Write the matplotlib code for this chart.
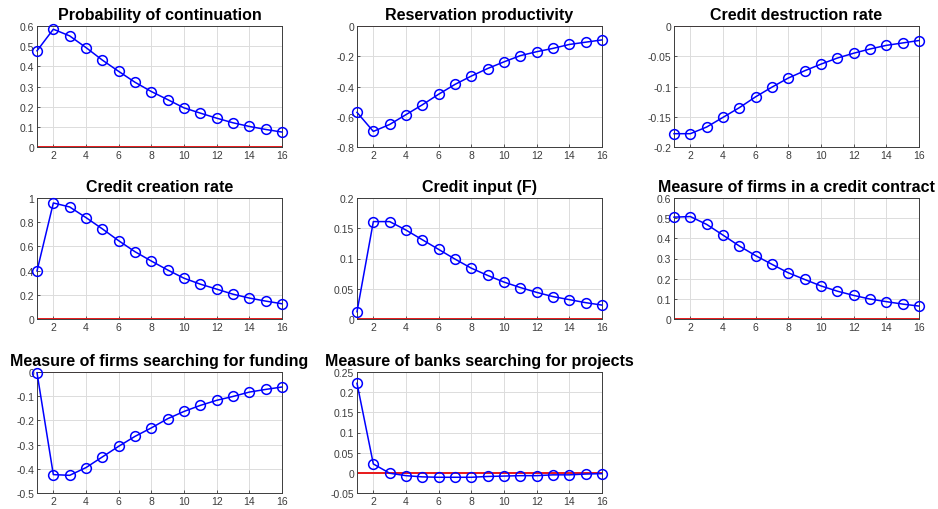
import matplotlib

matplotlib.use("Agg")
import matplotlib.pyplot as plt
import numpy as np
from matplotlib.ticker import FormatStrFormatter

plt.rcParams["font.family"] = ["Liberation Sans", "DejaVu Sans"]

periods = np.arange(1, 17)

titles = [
    "Probability of continuation",
    "Reservation productivity",
    "Credit destruction rate",
    "Credit creation rate",
    "Credit input (F)",
    "Measure of firms in a credit contract",
    "Measure of firms searching for funding",
    "Measure of banks searching for projects",
]

prob_continuation = [0.477, 0.584, 0.551, 0.493, 0.431, 0.375, 0.321, 0.275,
                     0.235, 0.194, 0.168, 0.143, 0.120, 0.102, 0.087, 0.074]
reservation_prod = [-0.571, -0.697, -0.651, -0.586, -0.521, -0.451, -0.386, -0.331,
                    -0.281, -0.237, -0.196, -0.170, -0.148, -0.122, -0.107, -0.092]
credit_destruction = [-0.178, -0.178, -0.167, -0.151, -0.135, -0.117, -0.101, -0.086,
                      -0.074, -0.063, -0.053, -0.045, -0.038, -0.032, -0.028, -0.024]
credit_creation = [0.397, 0.959, 0.926, 0.838, 0.745, 0.647, 0.556, 0.479,
                   0.405, 0.337, 0.288, 0.247, 0.205, 0.173, 0.148, 0.126]
credit_input = [0.012, 0.161, 0.161, 0.147, 0.131, 0.115, 0.099, 0.084,
                0.072, 0.061, 0.052, 0.044, 0.037, 0.032, 0.027, 0.023]
firms_in_contract = [0.505, 0.508, 0.469, 0.416, 0.362, 0.314, 0.271, 0.229,
                     0.196, 0.164, 0.138, 0.117, 0.099, 0.086, 0.074, 0.064]
firms_searching = [-0.003, -0.424, -0.427, -0.395, -0.351, -0.307, -0.266, -0.231,
                   -0.193, -0.163, -0.138, -0.117, -0.101, -0.083, -0.072, -0.062]
banks_searching = [0.222, 0.022, -0.001, -0.007, -0.010, -0.011, -0.011, -0.011,
                   -0.009, -0.008, -0.007, -0.007, -0.005, -0.005, -0.003, -0.002]

series = [prob_continuation, reservation_prod, credit_destruction, credit_creation,
          credit_input, firms_in_contract, firms_searching, banks_searching]

y_ranges = [(0, 0.6, 0.1), (-0.8, 0, 0.2), (-0.2, 0, 0.05), (0, 1, 0.2),
            (0, 0.2, 0.05), (0, 0.6, 0.1), (-0.5, 0, 0.1), (-0.05, 0.25, 0.05)]

# axes boxes in pixels: left, top
W, H = 938, 510
lefts = [37, 357, 674]
tops = [27, 199, 373]
aw, ah = 245, 121

fig = plt.figure(figsize=(W / 100, H / 100), dpi=100)

for i, (y, title, (lo, hi, step)) in enumerate(zip(series, titles, y_ranges)):
    r, c = divmod(i, 3)
    ax = fig.add_axes([lefts[c] / W, 1 - (tops[r] + ah) / H, aw / W, ah / H])
    ax.plot(periods, np.zeros_like(periods), color="#e8191a", lw=1.4, zorder=2)
    ax.plot(periods, y, "-o", color="#0000ff", lw=1.1, ms=7, mfc="none",
            mew=1.1, zorder=3, clip_on=False)
    ax.set_xlim(1, 16)
    ax.set_ylim(lo, hi)
    ax.set_xticks(np.arange(2, 17, 2))
    ax.set_yticks(np.round(np.arange(lo, hi + step / 2, step), 4) + 0.0)
    ax.yaxis.set_major_formatter(FormatStrFormatter("%g"))
    ax.grid(True, color="#dcdcdc", lw=0.7)
    ax.set_axisbelow(True)
    ax.tick_params(direction="in", length=2.5, width=0.6, labelsize=7.5,
                   colors="#3c3c3c", pad=2)
    for s in ax.spines.values():
        s.set_linewidth(0.7)
        s.set_color("#3c3c3c")
    ax.set_title(title, fontsize=11.5, fontweight="bold", pad=5)

fig.savefig("out.png", dpi=100)
